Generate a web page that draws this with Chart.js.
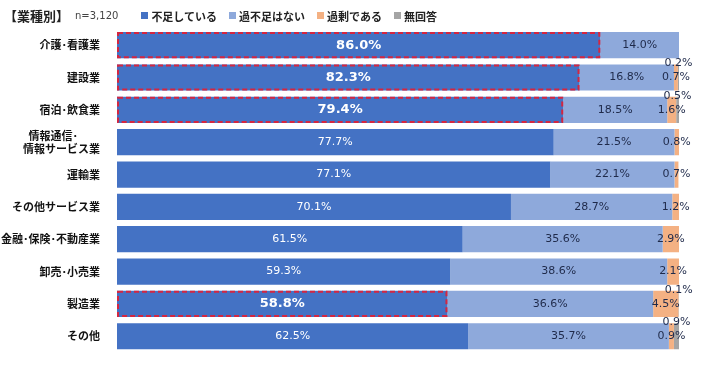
<!DOCTYPE html>
<html>
<head>
<meta charset="utf-8">
<script src="https://cdn.jsdelivr.net/npm/chart.js@4"></script>
<style>
  html, body { margin: 0; padding: 0; background: #fff; }
  #wrap { position: relative; width: 709px; height: 368px; }
  #header { position: absolute; left: 4px; top: 6px; display: flex; align-items: center; font-family: "Noto Sans CJK JP", sans-serif; color: #222; white-space: nowrap; }
  #header .title { font-size: 13px; font-weight: bold; }
  #header .n { font-size: 10px; color: #444; margin-left: 6px; margin-right: 23px; font-family: "DejaVu Sans", sans-serif; }
  #header .item { display: flex; align-items: center; font-size: 11px; font-weight: bold; margin-right: 12px; }
  #header .box { width: 7px; height: 7px; margin-right: 3px; }
</style>
</head>
<body>
<div id="wrap">
  <div id="header"><span class="title">【業種別】</span><span class="n">n=3,120</span><span id="legend" style="display:flex"></span></div>
  <canvas id="chart" width="709" height="368"></canvas>
</div>
<script>
// data
const categories = ['介護･看護業', '建設業', '宿泊･飲食業', ['情報通信･\u3000\u3000', '情報サービス業'], '運輸業', 'その他サービス業', '金融･保険･不動産業', '卸売･小売業', '製造業', 'その他'];
const seriesNames = ['不足している', '過不足はない', '過剰である', '無回答'];
const shortage = [86.0, 82.3, 79.4, 77.7, 77.1, 70.1, 61.5, 59.3, 58.8, 62.5];
const adequate = [14.0, 16.8, 18.5, 21.5, 22.1, 28.7, 35.6, 38.6, 36.6, 35.7];
const surplus = [0, 0.7, 1.6, 0.8, 0.7, 1.2, 2.9, 2.1, 4.5, 0.9];
const noAnswer = [0, 0.2, 0.5, 0, 0, 0, 0, 0, 0.1, 0.9];
const highlighted = [0, 1, 2, 8]; // rows outlined in red

const colors = ['#4472C4', '#8EA9DB', '#F4B183', '#A5A5A5'];

const valueLabels = {
  id: 'valueLabels',
  afterDatasetsDraw(chart) {
    const ctx = chart.ctx;
    ctx.save();
    ctx.textBaseline = 'middle';
    ctx.textAlign = 'center';
    chart.data.datasets.forEach((ds, di) => {
      const meta = chart.getDatasetMeta(di);
      meta.data.forEach((bar, i) => {
        const v = ds.data[i];
        if (!v) return;
        const p = bar.getProps(['x', 'base', 'y', 'height'], true);
        const cx = (p.x + p.base) / 2;
        let cy = p.y;
        if (di === 0) {
          const bold = highlighted.includes(i);
          ctx.fillStyle = '#fff';
          ctx.font = (bold ? 'bold 13px' : '11px') + ' "DejaVu Sans", sans-serif';
        } else {
          ctx.fillStyle = '#1F2A4A';
          ctx.font = '11px "DejaVu Sans", sans-serif';
        }
        if (di === 3) cy = p.y - p.height / 2 - 1;
        ctx.fillText(v.toFixed(1) + '%', cx, cy);
      });
    });
    // red dashed outline on the first segment of highlighted rows
    const meta0 = chart.getDatasetMeta(0);
    ctx.strokeStyle = '#D42640';
    ctx.lineWidth = 2;
    ctx.setLineDash([5, 3]);
    highlighted.forEach(i => {
      const p = meta0.data[i].getProps(['x', 'base', 'y', 'height'], true);
      ctx.strokeRect(p.base + 1, p.y - p.height / 2 + 1, p.x - p.base - 2, p.height - 2);
    });
    ctx.restore();
  }
};

const data = [shortage, adequate, surplus, noAnswer];

const chart = new Chart(document.getElementById('chart'), {
  type: 'bar',
  data: {
    labels: categories,
    datasets: seriesNames.map((name, k) => ({
      label: name,
      data: data[k],
      backgroundColor: colors[k],
      borderWidth: 0,
      barPercentage: 0.81,
      categoryPercentage: 1
    }))
  },
  options: {
    indexAxis: 'y',
    responsive: false,
    animation: false,
    layout: { padding: { top: 29, right: 30, bottom: 5, left: 0 } },
    plugins: {
      legend: { display: false },
      tooltip: { enabled: false }
    },
    scales: {
      x: { stacked: true, min: 0, max: 100, display: false },
      y: {
        stacked: true,
        grid: { display: false },
        border: { display: false },
        ticks: {
          color: '#111',
          padding: 9,
          font: { family: '"Noto Sans CJK JP", sans-serif', size: 11, weight: 'bold' }
        },
        afterFit(scale) { scale.width = 117; }
      }
    }
  },
  plugins: [valueLabels]
});

// legend built from the chart's datasets
const legend = document.getElementById('legend');
chart.data.datasets.forEach(ds => {
  const item = document.createElement('span');
  item.className = 'item';
  item.innerHTML = '<span class="box" style="background:' + ds.backgroundColor + '"></span>' + ds.label;
  legend.appendChild(item);
});
</script>
</body>
</html>
